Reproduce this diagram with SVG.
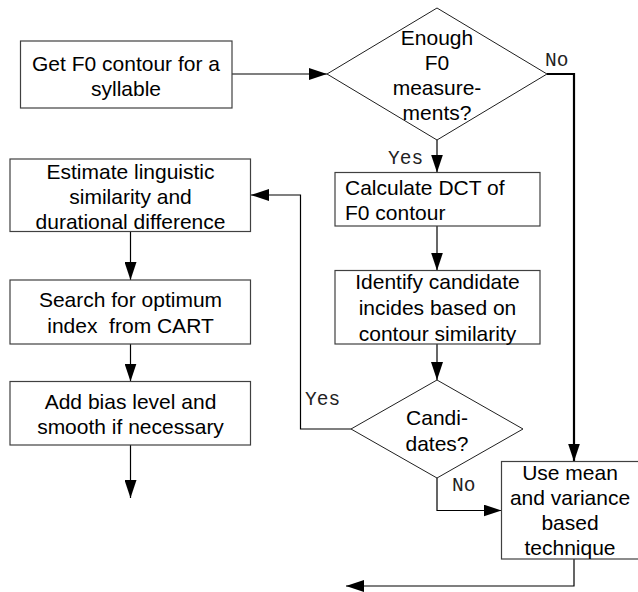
<svg xmlns="http://www.w3.org/2000/svg" width="638" height="592" viewBox="0 0 638 592">
  <defs>
    <marker id="arrow" markerUnits="userSpaceOnUse" markerWidth="18" markerHeight="12" refX="18" refY="6" orient="auto">
      <path d="M0,0 L18,6 L0,12 Z" fill="#000"/>
    </marker>
  </defs>
  <style>
    .box { fill: #fff; stroke: #404040; stroke-width: 1.2; }
    .dia { fill: #fff; stroke: #202020; stroke-width: 1; }
    .t { font-family: "Liberation Sans", Arial, sans-serif; font-size: 21px; fill: #000; text-anchor: middle; }
    .tl { text-anchor: start; }
    .lbl { font-family: "Liberation Mono", "Courier New", monospace; font-size: 19.5px; fill: #222; }
    .wire { fill: none; stroke: #000; stroke-width: 1.2; }
    .bold { stroke-width: 2.2; }
  </style>

  <rect width="638" height="592" fill="#fff"/>

  <!-- connectors -->
  <g id="connectors">
    <path class="wire" d="M232,74 H327" marker-end="url(#arrow)"/>
    <path class="wire" d="M437,140 V172.5" marker-end="url(#arrow)"/>
    <path class="wire bold" d="M547,74 H574 V461.5" marker-end="url(#arrow)"/>
    <path class="wire" d="M437,226 V270.5" marker-end="url(#arrow)"/>
    <path class="wire" d="M437,344 V380" marker-end="url(#arrow)"/>
    <path class="wire" d="M351,429 H300.5 V195 H251" marker-end="url(#arrow)"/>
    <path class="wire" d="M437,478 V510.5 H501.5" marker-end="url(#arrow)"/>
    <path class="wire" d="M574,559 V586 H346" marker-end="url(#arrow)"/>
    <path class="wire" d="M130.5,232 V280" marker-end="url(#arrow)"/>
    <path class="wire" d="M130.5,344 V381.5" marker-end="url(#arrow)"/>
    <path class="wire" d="M130.5,445 V498" marker-end="url(#arrow)"/>
    <text class="lbl" x="545" y="66">No</text>
    <text class="lbl" x="388" y="164">Yes</text>
    <text class="lbl" x="305" y="405">Yes</text>
    <text class="lbl" x="452" y="491">No</text>
  </g>

  <g id="get-f0">
    <rect class="box" x="20.5" y="41" width="211.5" height="67"/>
    <text class="t" x="126" y="71">Get F0 contour for a</text>
    <text class="t" x="126" y="96">syllable</text>
  </g>

  <g id="enough-f0">
    <polygon class="dia" points="437,8 547,74 437,140 327,74"/>
    <text class="t" x="437" y="45">Enough</text>
    <text class="t" x="437" y="70">F0</text>
    <text class="t" x="437" y="95">measure-</text>
    <text class="t" x="437" y="120">ments?</text>
  </g>

  <g id="calc-dct">
    <rect class="box" x="335" y="172.5" width="205" height="53.5"/>
    <text class="t tl" x="345" y="195">Calculate DCT of</text>
    <text class="t tl" x="345" y="220">F0 contour</text>
  </g>

  <g id="identify">
    <rect class="box" x="335" y="270.5" width="205" height="73.5"/>
    <text class="t" x="437.5" y="289">Identify candidate</text>
    <text class="t" x="437.5" y="315">incides based on</text>
    <text class="t" x="437.5" y="341">contour similarity</text>
  </g>

  <g id="candidates">
    <polygon class="dia" points="437,380 523,429 437,478 351,429"/>
    <text class="t" x="437" y="425">Candi-</text>
    <text class="t" x="437" y="451">dates?</text>
  </g>

  <g id="mean-variance">
    <rect class="box" x="501.5" y="461.5" width="140" height="97.5"/>
    <text class="t" x="570" y="480">Use mean</text>
    <text class="t" x="570" y="505">and variance</text>
    <text class="t" x="570" y="530">based</text>
    <text class="t" x="570" y="555">technique</text>
  </g>

  <g id="estimate">
    <rect class="box" x="10" y="159" width="240.5" height="72.5"/>
    <text class="t" x="130.5" y="179">Estimate linguistic</text>
    <text class="t" x="130.5" y="204">similarity and</text>
    <text class="t" x="130.5" y="229">durational difference</text>
  </g>

  <g id="search-cart">
    <rect class="box" x="10" y="280" width="240.5" height="64"/>
    <text class="t" x="130.5" y="306.5" xml:space="preserve">Search for optimum</text>
    <text class="t" x="130.5" y="332.5" xml:space="preserve">index  from CART</text>
  </g>

  <g id="add-bias">
    <rect class="box" x="10" y="381.5" width="240.5" height="63.5"/>
    <text class="t" x="130.5" y="409">Add bias level and</text>
    <text class="t" x="130.5" y="434">smooth if necessary</text>
  </g>
</svg>
